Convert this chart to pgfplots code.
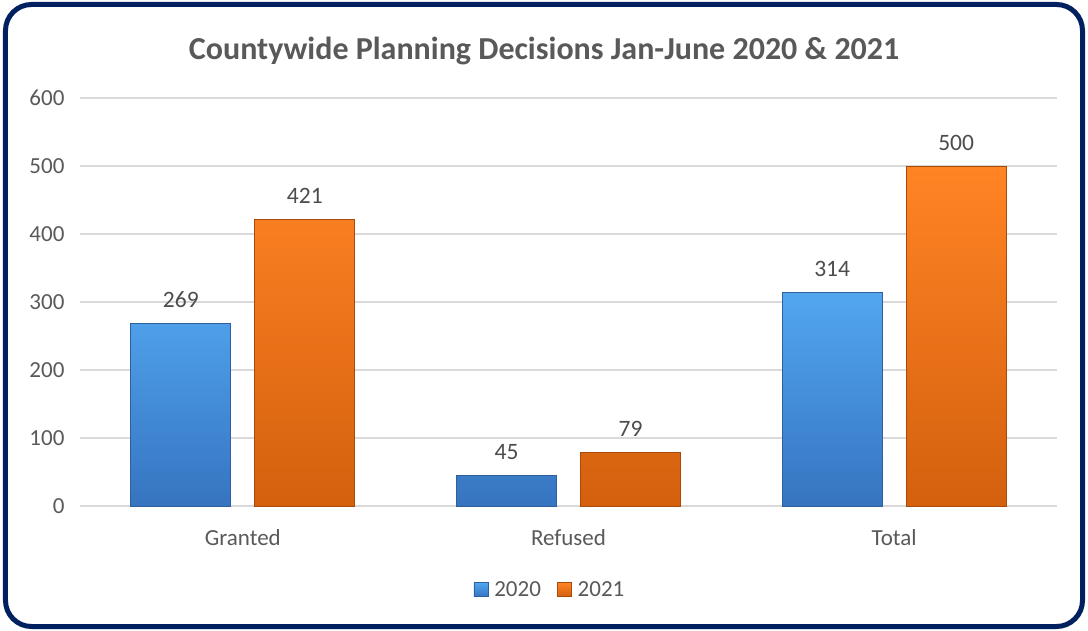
\documentclass[border=0pt]{standalone}
\usepackage{pgfplots}
\pgfplotsset{compat=1.18}
\usepackage{fontspec}
\setmainfont{Carlito}
\definecolor{txt}{HTML}{595959}
\definecolor{gridc}{HTML}{D9D9D9}
\definecolor{frame}{HTML}{002060}
\definecolor{blueT}{HTML}{52A6F0}
\definecolor{blueB}{HTML}{3674C0}
\definecolor{blueE}{HTML}{2E5F9E}
\definecolor{orT}{HTML}{FF8424}
\definecolor{orB}{HTML}{D4600E}
\definecolor{orE}{HTML}{A84B0A}
\begin{document}
\begin{tikzpicture}
\useasboundingbox (-80pt,-124pt) rectangle (1008pt,506pt);
\draw[frame, line width=5pt, rounded corners=26pt] (-74.5pt,-120.5pt) rectangle (1002.5pt,501.5pt);
\begin{axis}[
    scale only axis,
    width=977pt, height=408pt,
    xmin=-0.5, xmax=2.5,
    ymin=0, ymax=600,
    ytick={0,100,...,600},
    xtick={0,1,2},
    xticklabels={Granted,Refused,Total},
    axis line style={draw=none},
    major tick length=0pt,
    ymajorgrids,
    grid style={gridc, line width=1.2pt},
    ybar=24pt, bar width=100pt,
    ticklabel style={font=\fontsize{23}{27}\selectfont, color=txt},
    /pgf/number format/assume math mode=true,
    yticklabel style={xshift=-12pt},
    xticklabel style={yshift=-20pt},
    nodes near coords,
    nodes near coords style={font=\fontsize{23.5}{28}\selectfont, color=txt!85!black, yshift=12pt},
    title={\textbf{Countywide Planning Decisions Jan-June 2020 \& 2021}},
    title style={font=\fontsize{32}{38}\selectfont, color=txt, at={(0.475,1)}, yshift=24pt},
    legend columns=2,
    legend style={draw=none, fill=none, at={(0.481,-0.205)}, anchor=center,
        font=\fontsize{23}{27}\selectfont, text=txt,
        /tikz/every odd column/.append style={column sep=4pt},
        /tikz/every even column/.append style={column sep=14pt}},
    legend image code/.code={\path[#1] (0pt,-7pt) rectangle (14pt,7pt);},
]
\addplot[top color=blueT, bottom color=blueB, draw=blueE, line width=0.8pt]
    coordinates {(0,269) (1,45) (2,314)};
\addplot[top color=orT, bottom color=orB, draw=orE, line width=0.8pt]
    coordinates {(0,421) (1,79) (2,500)};
\legend{2020,2021}
\end{axis}
\end{tikzpicture}
\end{document}
